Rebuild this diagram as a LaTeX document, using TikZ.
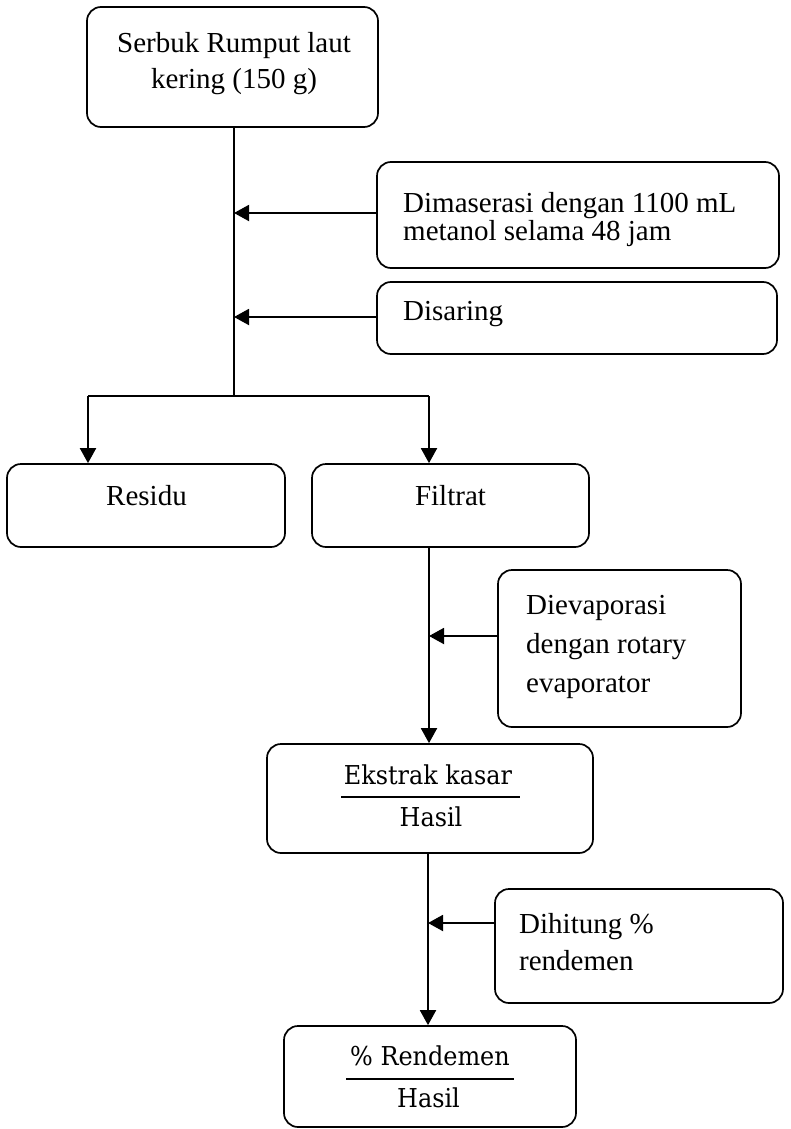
\documentclass[tikz,border=0pt]{standalone}
\usepackage{fontspec}
\setmainfont{Liberation Serif}
\newfontfamily\fracfont[FakeStretch=0.92]{DejaVu Serif}
\usetikzlibrary{arrows.meta}

\begin{document}
\begin{tikzpicture}[x=1pt,y=-1pt,
  box/.style={draw, line width=1.7pt, rounded corners=14pt, inner sep=0pt},
  link/.style={line width=1.9pt},
  flow/.style={link, -{Triangle[length=15pt,width=16pt]}},
  txt/.style={inner sep=0pt, font=\fontsize{29}{35}\selectfont},
  fr/.style={inner sep=0pt, font=\fracfont\fontsize{26}{32}\selectfont},
  barline/.style={line width=2.6pt}
]
\useasboundingbox (0,0) rectangle (790,1129);

% boxes
\node[box, minimum width=291pt, minimum height=120pt] (serbuk)   at (232.5,67)   {};
\node[box, minimum width=402pt, minimum height=106pt] (maserasi) at (578,215)    {};
\node[box, minimum width=400pt, minimum height=72pt]  (saring)   at (577,318)    {};
\node[box, minimum width=278pt, minimum height=83pt]  (residu)   at (146,505.5)  {};
\node[box, minimum width=277pt, minimum height=83pt]  (filtrat)  at (450.5,505.5){};
\node[box, minimum width=243pt, minimum height=157pt] (evap)     at (619.5,648.5){};
\node[box, minimum width=326pt, minimum height=109pt] (ekstrak)  at (430,798.5)  {};
\node[box, minimum width=288pt, minimum height=114pt] (hitung)   at (639,946)    {};
\node[box, minimum width=292pt, minimum height=101pt] (rendemen) at (430,1076.5) {};

% box texts
\node[txt, anchor=base] (serbuk-a) at (234,53) {Serbuk Rumput laut};
\node[txt, anchor=base] (serbuk-b) at (234,89) {kering (150 g)};
\node[txt, anchor=base west] (maserasi-a) at (403,212) {Dimaserasi dengan 1100 mL};
\node[txt, anchor=base west] (maserasi-b) at (403,240) {metanol selama 48 jam};
\node[txt, anchor=base west] (saring-a) at (403,320) {Disaring};
\node[txt, anchor=base] (residu-a) at (146.5,505) {Residu};
\node[txt, anchor=base] (filtrat-a) at (450.5,505) {Filtrat};
\node[txt, anchor=base west] (evap-a) at (526,614) {Dievaporasi};
\node[txt, anchor=base west] (evap-b) at (526,653) {dengan rotary};
\node[txt, anchor=base west] (evap-c) at (526,692) {evaporator};
\node[txt, anchor=base west] (hitung-a) at (519,933) {Dihitung \%};
\node[txt, anchor=base west] (hitung-b) at (519,970) {rendemen};

% fraction-style labels
\node[fr, anchor=base] (ekstrak-a) at (428,784) {Ekstrak kasar};
\draw[barline] (341,797) -- (520,797);
\node[fr, anchor=base] (ekstrak-b) at (431,826) {Hasil};
\node[fr, anchor=base] (rendemen-a) at (430,1065) {\% Rendemen};
\draw[barline] (346,1079) -- (514,1079);
\node[fr, anchor=base] (rendemen-b) at (428.5,1107) {Hasil};

% trunk and branches
\coordinate (fork) at (234,396);
\coordinate (jm) at (234,213);
\coordinate (js) at (234,317);
\coordinate (bl) at (88,396);
\coordinate (br) at (429,396);
\draw[link] (serbuk.south -| fork) -- (fork);
\draw[link] (bl) -- (br);
\draw[flow] (bl) -- (residu.north -| bl);
\draw[flow] (br) -- (filtrat.north -| br);
\draw[flow] (maserasi.west |- jm) -- (jm);
\draw[flow] (saring.west |- js) -- (js);

% filtrate to crude extract
\coordinate (x1) at (429,0);
\coordinate (je) at (429,636);
\draw[flow] (filtrat.south -| x1) -- (ekstrak.north -| x1);
\draw[flow] (evap.west |- je) -- (je);

% crude extract to yield
\coordinate (x2) at (428,0);
\coordinate (jh) at (428,923);
\draw[flow] (ekstrak.south -| x2) -- (rendemen.north -| x2);
\draw[flow] (hitung.west |- jh) -- (jh);
\end{tikzpicture}
\end{document}
